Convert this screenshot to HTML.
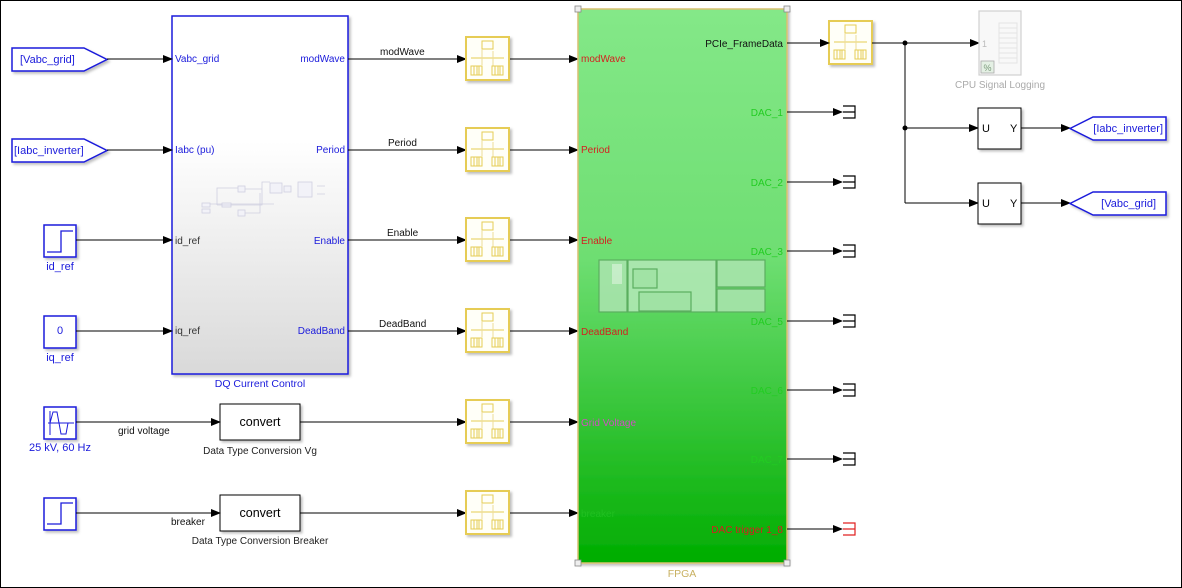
<!DOCTYPE html>
<html><head><meta charset="utf-8"><style>
html,body{margin:0;padding:0;background:#fff;}
svg{display:block;font-family:"Liberation Sans",Arial,sans-serif;}
</style></head><body>
<svg width="1182" height="588" viewBox="0 0 1182 588" xmlns="http://www.w3.org/2000/svg">
<defs>
<linearGradient id="dq" x1="0" y1="0" x2="0" y2="1">
<stop offset="0" stop-color="#ffffff"/><stop offset="0.35" stop-color="#ffffff"/><stop offset="1" stop-color="#d9d9d9"/></linearGradient>
<linearGradient id="fp" x1="0" y1="0" x2="0" y2="1">
<stop offset="0" stop-color="#84e888"/><stop offset="0.45" stop-color="#6ede72"/><stop offset="1" stop-color="#00ad00"/></linearGradient>
<marker id="ar" markerWidth="10" markerHeight="8" refX="9" refY="4" orient="auto" markerUnits="userSpaceOnUse"><path d="M0,0 L10,4 L0,8 z" fill="#000"/></marker>
<filter id="sh" x="-10%" y="-10%" width="130%" height="130%"><feDropShadow dx="2" dy="2" stdDeviation="1.2" flood-color="#000" flood-opacity="0.25"/></filter>
<g id="rt">
<rect x="0" y="0" width="43" height="43" fill="#fffff8" stroke="#e6cc55" stroke-width="2" filter="url(#sh)"/>
<rect x="16" y="4" width="11" height="8" fill="none" stroke="#e6cc55"/>
<line x1="5" y1="21" x2="38" y2="21" stroke="#e6cc55"/>
<line x1="16" y1="12" x2="16" y2="28" stroke="#eedd99"/><line x1="27" y1="14" x2="27" y2="29" stroke="#eedd99"/>
<rect x="5" y="29" width="11" height="9" fill="none" stroke="#e6cc55"/>
<rect x="26" y="29" width="11" height="9" fill="none" stroke="#e6cc55"/>
<path d="M8,29v9M11,29v9M13,29v9M29,29v9M32,29v9M34,29v9" stroke="#e6cc55"/>
</g>
<g id="term"><path d="M0,-6 H12 V6 H0 M0,0 H12" fill="none" stroke="#000" stroke-width="1.2"/></g>
</defs>
<rect x="0.5" y="0.5" width="1181" height="587" fill="#fff" stroke="#000"/>

<!-- From tags left -->
<g stroke="#1a1adb" stroke-width="1.5" fill="#fff" filter="url(#sh)">
<path d="M12,48 H84 L107,59.5 L84,71 H12 Z"/>
<path d="M12,139 H84 L107,150.5 L84,162 H12 Z"/>
</g>
<g fill="#1a1adb" font-size="11">
<text x="20" y="63">[Vabc_grid]</text>
<text x="14" y="154">[Iabc_inverter]</text>
</g>

<!-- sources -->
<g stroke="#1a1adb" stroke-width="1.5" fill="#fff" filter="url(#sh)">
<rect x="44" y="225" width="32" height="32"/>
<rect x="44" y="316" width="32" height="32"/>
<rect x="44" y="407" width="32" height="32"/>
<rect x="44" y="498" width="32" height="32"/>
</g>
<path d="M47,252 H61 V231 H73" fill="none" stroke="#1a1adb" stroke-width="1.3"/>
<path d="M47,524 H61 V503 H73" fill="none" stroke="#1a1adb" stroke-width="1.3"/>
<path d="M50,411 V435 M48,423 H74 M50,423 L53,412 H57 L59,423 L61,434 H66 L68,423" fill="none" stroke="#1a1adb" stroke-width="1"/>
<g fill="#1a1adb" font-size="11" text-anchor="middle">
<text x="60" y="334">0</text>
<text x="60" y="270">id_ref</text>
<text x="60" y="361">iq_ref</text>
<text x="60" y="451">25 kV, 60 Hz</text>
</g>

<!-- DQ block -->
<rect x="172" y="16" width="176" height="358" fill="url(#dq)" stroke="#1a1adb" stroke-width="1.5" filter="url(#sh)"/>
<g stroke="#cfcfe0" fill="#f2f2f8" stroke-width="0.8">
<rect x="202" y="203" width="8" height="4"/><rect x="202" y="209" width="8" height="4"/>
<rect x="222" y="203" width="9" height="4"/><rect x="238" y="186" width="7" height="6"/><rect x="238" y="210" width="7" height="6"/>
<rect x="270" y="183" width="12" height="10"/><rect x="284" y="186" width="7" height="6"/><rect x="298" y="182" width="14" height="15"/>
<path d="M217,205 V188 H238 M217,205 H262 V182 H270 M245,189 H262 M245,213 H260 V193 M210,204 H222 M231,204 H274 M317,186 H325 M317,194 H325" fill="none"/>
</g>
<g font-size="10">
<text x="175" y="62" fill="#1a1adb">Vabc_grid</text>
<text x="175" y="153" fill="#1a1adb">Iabc (pu)</text>
<text x="175" y="244" fill="#333">id_ref</text>
<text x="175" y="334" fill="#333">iq_ref</text>
<g text-anchor="end" fill="#1a1adb">
<text x="345" y="62">modWave</text>
<text x="345" y="153">Period</text>
<text x="345" y="244">Enable</text>
<text x="345" y="334">DeadBand</text>
</g>
</g>
<text x="260" y="387" fill="#1a1adb" font-size="10.5" text-anchor="middle">DQ Current Control</text>

<!-- convert blocks -->
<g fill="#fff" stroke="#000" filter="url(#sh)">
<rect x="220" y="404" width="80" height="36"/>
<rect x="220" y="495" width="80" height="36"/>
</g>
<g font-size="12.5" text-anchor="middle" fill="#000">
<text x="260" y="426">convert</text>
<text x="260" y="517">convert</text>
</g>
<g font-size="10" text-anchor="middle" fill="#222">
<text x="260" y="454">Data Type Conversion Vg</text>
<text x="260" y="544">Data Type Conversion Breaker</text>
</g>

<!-- input lines -->
<g stroke="#000" stroke-width="1" marker-end="url(#ar)">
<line x1="107" y1="59" x2="172" y2="59"/>
<line x1="107" y1="150" x2="172" y2="150"/>
<line x1="76" y1="240" x2="172" y2="240"/>
<line x1="76" y1="331" x2="172" y2="331"/>
<line x1="76" y1="422" x2="220" y2="422"/>
<line x1="76" y1="513" x2="220" y2="513"/>
<line x1="348" y1="59" x2="466" y2="59"/>
<line x1="348" y1="150" x2="466" y2="150"/>
<line x1="348" y1="240" x2="466" y2="240"/>
<line x1="348" y1="331" x2="466" y2="331"/>
<line x1="300" y1="422" x2="466" y2="422"/>
<line x1="300" y1="513" x2="466" y2="513"/>
<line x1="509" y1="59" x2="578" y2="59"/>
<line x1="509" y1="150" x2="578" y2="150"/>
<line x1="509" y1="240" x2="578" y2="240"/>
<line x1="509" y1="331" x2="578" y2="331"/>
<line x1="509" y1="422" x2="578" y2="422"/>
<line x1="509" y1="513" x2="578" y2="513"/>
</g>
<g font-size="10" fill="#111">
<text x="380" y="55">modWave</text>
<text x="388" y="146">Period</text>
<text x="387" y="236">Enable</text>
<text x="379" y="327">DeadBand</text>
<text x="118" y="434">grid voltage</text>
<text x="171" y="525">breaker</text>
</g>

<!-- rate transitions -->
<use href="#rt" x="466" y="37"/>
<use href="#rt" x="466" y="128"/>
<use href="#rt" x="466" y="218"/>
<use href="#rt" x="466" y="309"/>
<use href="#rt" x="466" y="400"/>
<use href="#rt" x="466" y="491"/>
<use href="#rt" x="829" y="21"/>

<!-- FPGA -->
<rect x="578" y="9" width="209" height="554" fill="url(#fp)" stroke="#d8c070" stroke-width="1.5" filter="url(#sh)"/>
<g fill="#eee" stroke="#888" stroke-width="0.8">
<rect x="575" y="6" width="6" height="6"/><rect x="784" y="6" width="6" height="6"/>
<rect x="575" y="560" width="6" height="6"/><rect x="784" y="560" width="6" height="6"/>
</g>
<g stroke="#5aaa5e" stroke-width="1.2" fill="#a8e4ac" opacity="0.9">
<rect x="599" y="260" width="28" height="52"/>
<rect x="628" y="260" width="88" height="52" fill="#b0e8b4"/>
<rect x="717" y="260" width="48" height="27"/>
<rect x="717" y="289" width="48" height="23"/>
<rect x="633" y="269" width="24" height="19"/>
<rect x="639" y="292" width="52" height="19"/>
<rect x="612" y="264" width="10" height="20" fill="#d0f0d2" stroke="none"/>
</g>
<g font-size="10">
<g fill="#d42020">
<text x="581" y="62">modWave</text>
<text x="581" y="153">Period</text>
<text x="581" y="244">Enable</text>
<text x="581" y="335">DeadBand</text>
</g>
<text x="581" y="426" fill="#d050c0">Grid Voltage</text>
<text x="581" y="517" fill="#20c020">breaker</text>
<g text-anchor="end">
<text x="783" y="47" fill="#111">PCIe_FrameData</text>
<g fill="#22cc22">
<text x="783" y="116">DAC_1</text>
<text x="783" y="186">DAC_2</text>
<text x="783" y="255">DAC_3</text>
<text x="783" y="325">DAC_5</text>
<text x="783" y="394">DAC_6</text>
<text x="783" y="463">DAC_7</text>
</g>
<text x="783" y="533" fill="#d42020">DAC trigger 1_8</text>
</g>
</g>
<text x="682" y="577" font-size="10.5" fill="#c8b060" text-anchor="middle">FPGA</text>

<!-- outputs -->
<g stroke="#000" stroke-width="1" marker-end="url(#ar)">
<line x1="787" y1="43" x2="829" y2="43"/>
<line x1="787" y1="112" x2="842" y2="112"/>
<line x1="787" y1="182" x2="842" y2="182"/>
<line x1="787" y1="251" x2="842" y2="251"/>
<line x1="787" y1="321" x2="842" y2="321"/>
<line x1="787" y1="390" x2="842" y2="390"/>
<line x1="787" y1="459" x2="842" y2="459"/>
<line x1="787" y1="529" x2="842" y2="529"/>
<line x1="872" y1="43" x2="979" y2="43"/>
<line x1="905" y1="128" x2="978" y2="128"/>
<line x1="905" y1="203" x2="978" y2="203"/>
<line x1="1021" y1="128" x2="1070" y2="128"/>
<line x1="1021" y1="203" x2="1070" y2="203"/>
</g>
<line x1="905" y1="43" x2="905" y2="203" stroke="#000"/>
<circle cx="905" cy="43" r="2.5"/><circle cx="905" cy="128" r="2.5"/>
<use href="#term" x="843" y="112"/><use href="#term" x="843" y="182"/>
<use href="#term" x="843" y="251"/><use href="#term" x="843" y="321"/>
<use href="#term" x="843" y="390"/><use href="#term" x="843" y="459"/>
<path d="M843,523 H855 V535 H843 M843,529 H855" fill="none" stroke="#e02020" stroke-width="1.2"/>

<!-- CPU signal logging -->
<rect x="979" y="11" width="42" height="64" fill="#f8f8f8" stroke="#d0d0d0" stroke-width="1.2"/>
<g stroke="#e4e4e4" fill="none"><rect x="999" y="23" width="18" height="40"/><path d="M999,28H1017M999,33H1017M999,38H1017M999,43H1017M999,48H1017M999,53H1017M999,58H1017"/></g>
<text x="982" y="47" font-size="9" fill="#bbb">1</text>
<rect x="981" y="61" width="13" height="12" fill="#e4f0e4" stroke="#aaa" stroke-width="0.8"/>
<text x="987.5" y="71" font-size="9" fill="#7a9a7a" text-anchor="middle">%</text>
<text x="1000" y="88" font-size="10" fill="#aaa" text-anchor="middle">CPU Signal Logging</text>

<!-- U Y blocks -->
<g fill="#fff" stroke="#000" filter="url(#sh)">
<rect x="978" y="108" width="43" height="41"/>
<rect x="978" y="183" width="43" height="41"/>
</g>
<g font-size="11" fill="#000">
<text x="982" y="132">U</text><text x="1010" y="132">Y</text>
<text x="982" y="207">U</text><text x="1010" y="207">Y</text>
</g>

<!-- Goto tags right -->
<g stroke="#1a1adb" stroke-width="1.5" fill="#fff" filter="url(#sh)">
<path d="M1070,128.5 L1093,117 H1166 V140 H1093 Z"/>
<path d="M1070,203.5 L1093,192 H1166 V215 H1093 Z"/>
</g>
<g fill="#1a1adb" font-size="11" text-anchor="end">
<text x="1163" y="132">[Iabc_inverter]</text>
<text x="1156" y="207">[Vabc_grid]</text>
</g>
</svg>
</body></html>
